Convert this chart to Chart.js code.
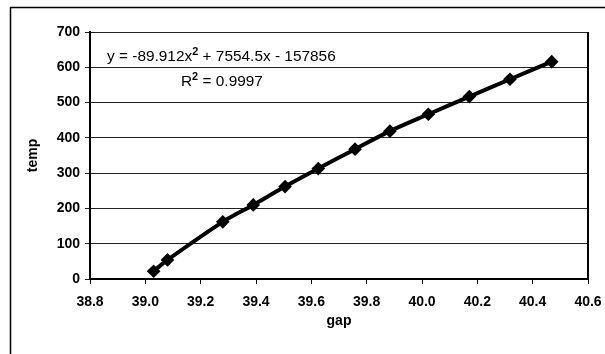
<!DOCTYPE html>
<html>
<head>
<meta charset="utf-8">
<script src="https://cdn.jsdelivr.net/npm/chart.js@4"></script>
<style>
  html, body { margin: 0; padding: 0; background: #fff; }
  #wrap { width: 605px; height: 354px; position: relative; }
</style>
</head>
<body>
<div id="wrap"><canvas id="chart" width="605" height="354"></canvas></div>
<script>
// values
const gap = [39.03, 39.08, 39.28, 39.39, 39.505, 39.625, 39.758, 39.884, 40.023, 40.171, 40.318, 40.469];
const temp = [22, 54, 162, 210, 262, 313, 368, 419, 467, 517, 566, 616];
const xTicks = [38.8, 39, 39.2, 39.4, 39.6, 39.8, 40, 40.2, 40.4, 40.6];
const yTicks = [0, 100, 200, 300, 400, 500, 600, 700];
const eqParts = ["y = -89.912x", "2", " + 7554.5x - 157856"];
const r2Parts = ["R", "2", " = 0.9997"];

const FONT = "'Liberation Sans', Arial, sans-serif";

// outer frame + right edge of plot + trendline label
const extras = {
    id: "extras",
    afterDraw(chart) {
        const { ctx, chartArea } = chart;
        ctx.save();
        ctx.strokeStyle = "#000";
        ctx.lineWidth = 1.5;
        ctx.beginPath();
        ctx.moveTo(10.5, 354);
        ctx.lineTo(10.5, 7.5);
        ctx.lineTo(605, 7.5);
        ctx.stroke();

        ctx.lineWidth = 2;
        ctx.beginPath();
        ctx.moveTo(chartArea.right, chartArea.top);
        ctx.lineTo(chartArea.right, chartArea.bottom);
        ctx.stroke();

        ctx.fillStyle = "#000";
        ctx.textBaseline = "middle";
        // the scanned label is a bit wider than it is tall
        const drawSup = (parts, x, y) => {
            ctx.save();
            ctx.translate(x, y);
            ctx.scale(1.1, 1);
            let cx = 0;
            ctx.font = "14px " + FONT;
            ctx.fillText(parts[0], cx, 0);
            cx += ctx.measureText(parts[0]).width;
            ctx.font = "bold 10px " + FONT;
            ctx.fillText(parts[1], cx, -5);
            cx += ctx.measureText(parts[1]).width;
            ctx.font = "14px " + FONT;
            ctx.fillText(parts[2], cx, 0);
            ctx.restore();
        };
        drawSup(eqParts, 107, 57);
        drawSup(r2Parts, 181, 82);
        ctx.restore();
    },
};

new Chart(document.getElementById("chart"), {
    type: "scatter",
    data: {
        datasets: [
            {
                label: "temp",
                data: gap.map((g, i) => ({ x: g, y: temp[i] })),
                showLine: true,
                borderColor: "#000",
                backgroundColor: "#000",
                borderWidth: 4,
                pointStyle: "rectRot",
                pointRadius: 4,
                tension: 0.3,
            },
        ],
    },
    options: {
        responsive: false,
        animation: false,
        layout: { padding: { top: 32, right: 17, left: 0, bottom: 0 } },
        plugins: { legend: { display: false }, tooltip: { enabled: false } },
        scales: {
            x: {
                type: "linear",
                min: 38.8,
                max: 40.6,
                afterBuildTicks: (s) => { s.ticks = xTicks.map((v) => ({ value: v })); },
                afterFit: (s) => {
                    s.height = 75;
                    s.paddingLeft = 0;
                    s.paddingRight = 0;
                },
                grid: { drawOnChartArea: false, color: "#000", tickLength: 5 },
                border: { color: "#000", width: 2 },
                ticks: {
                    color: "#000",
                    padding: 10,
                    maxRotation: 0,
                    font: { family: FONT, size: 14, weight: "bold" },
                },
                title: {
                    display: true,
                    text: "gap",
                    color: "#000",
                    padding: { top: 0, bottom: 24 },
                    font: { family: FONT, size: 14, weight: "bold" },
                },
            },
            y: {
                min: 0,
                max: 700,
                afterBuildTicks: (s) => { s.ticks = yTicks.map((v) => ({ value: v })); },
                afterFit: (s) => {
                    s.width = 90;
                    s.paddingTop = 0;
                    s.paddingBottom = 0;
                },
                grid: { color: "#222", lineWidth: 1, tickLength: 5 },
                border: { color: "#000", width: 2 },
                ticks: {
                    color: "#000",
                    padding: 5,
                    font: { family: FONT, size: 14, weight: "bold" },
                },
                title: {
                    display: true,
                    text: "temp",
                    color: "#000",
                    padding: { top: 25, bottom: 0 },
                    font: { family: FONT, size: 14, weight: "bold" },
                },
            },
        },
    },
    plugins: [extras],
});
</script>
</body>
</html>
